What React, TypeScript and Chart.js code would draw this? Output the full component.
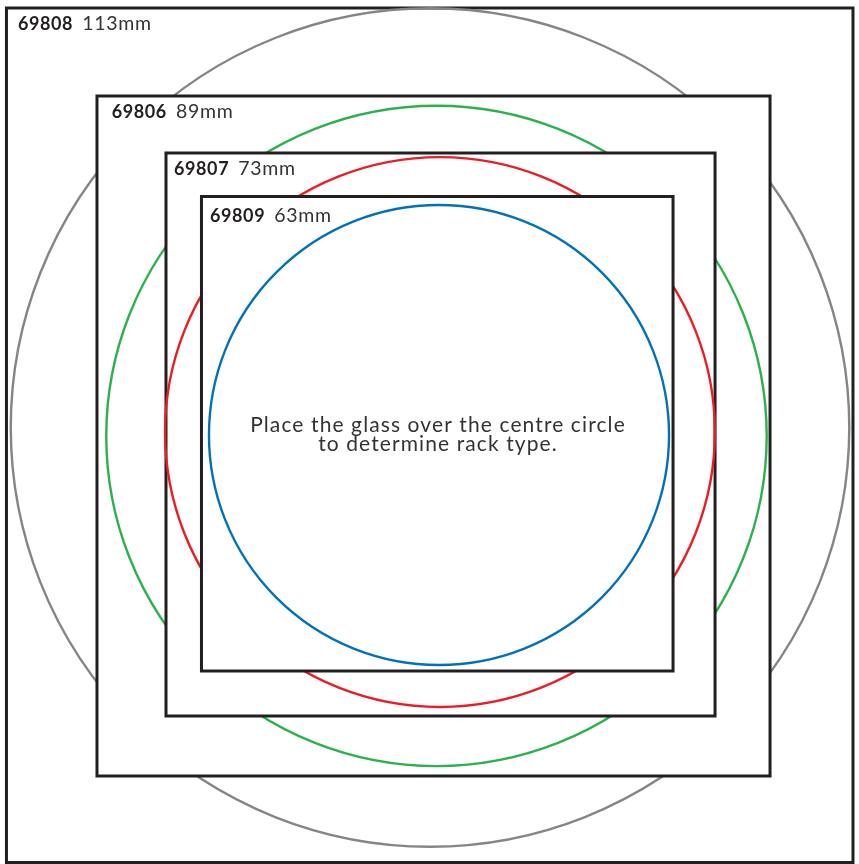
import React, { useEffect, useRef } from 'react';
import { Chart, registerables } from 'chart.js';

Chart.register(...registerables);

// ---- data ----
const codes = ['69808', '69806', '69807', '69809'];
const sizeLabelsMm = [113, 89, 73, 63];
// circle diameters and centres as drawn in the picture (drawing units ≈ mm)
const circleDiameters = [113, 89, 74.1, 62.0];
const circleCx = [-0.94, -0.07, 0.4, 0.27];
const circleCy = [0.74, -0.4, 0.13, -0.27];
const squareLeft = [-58.02, -45.82, -36.52, -31.74];
const squareRight = [56.06, 44.88, 37.47, 31.81];
const squareTop = [57.28, 45.42, 37.74, 31.87];
const squareBottom = [-57.88, -46.23, -38.14, -32.08];
const centreText = ['Place the glass over the centre circle', 'to determine rack type.'];

// ---- styles ----
const circleColors = ['#858585', '#2bb24c', '#ed1c24', '#0072bc'];
const squareColor = '#231f20';
const labelOffsetX = [11.5, 14.7, 8, 8.5];
const labelOffsetY = [22, 22, 22, 25.5];
const FONT = 'Lato, "DejaVu Sans", sans-serif';

const X_MIN = -58.89, X_MAX = 56.87, Y_MIN = -58.09, Y_MAX = 58.36;

export default function App() {
  const ref = useRef<HTMLCanvasElement | null>(null);

  useEffect(() => {
    if (!ref.current) return;
    const n = codes.length;
    const datasets = codes.map((c, i) => ({
      label: c,
      data: [
        { x: squareLeft[i], y: squareTop[i] },
        { x: squareRight[i], y: squareTop[i] },
        { x: squareRight[i], y: squareBottom[i] },
        { x: squareLeft[i], y: squareBottom[i] },
        { x: squareLeft[i], y: squareTop[i] },
      ],
      showLine: true,
      borderColor: squareColor,
      borderWidth: 3,
      borderJoinStyle: 'miter' as const,
      borderCapStyle: 'square' as const,
      pointRadius: 0,
      pointHoverRadius: 0,
      tension: 0,
      fill: false,
      order: n - i,
    }));

    const shapes = {
      id: 'shapes',
      beforeDatasetDraw(chart: any, args: any) {
        const i = args.index;
        const { ctx, scales } = chart;
        const x = scales.x, y = scales.y;
        const l = x.getPixelForValue(squareLeft[i]);
        const r = x.getPixelForValue(squareRight[i]);
        const t = y.getPixelForValue(squareTop[i]);
        const b = y.getPixelForValue(squareBottom[i]);
        ctx.save();
        ctx.fillStyle = '#ffffff';
        ctx.fillRect(l, t, r - l, b - t);
        ctx.restore();
      },
      afterDatasetDraw(chart: any, args: any) {
        const i = args.index;
        const { ctx, scales } = chart;
        const x = scales.x, y = scales.y;
        const cx = x.getPixelForValue(circleCx[i]);
        const cy = y.getPixelForValue(circleCy[i]);
        const rx = x.getPixelForValue(circleCx[i] + circleDiameters[i] / 2) - cx;
        const ry = cy - y.getPixelForValue(circleCy[i] + circleDiameters[i] / 2);
        ctx.save();
        ctx.beginPath();
        ctx.ellipse(cx, cy, rx, ry, 0, 0, Math.PI * 2);
        ctx.strokeStyle = circleColors[i];
        ctx.lineWidth = 2.4;
        ctx.stroke();
        ctx.restore();
      },
      afterDraw(chart: any) {
        const { ctx, scales } = chart;
        const x = scales.x, y = scales.y;
        ctx.save();
        ctx.textBaseline = 'alphabetic';
        ctx.textAlign = 'left';
        codes.forEach((c, i) => {
          const px = x.getPixelForValue(squareLeft[i]) + labelOffsetX[i];
          const py = y.getPixelForValue(squareTop[i]) + labelOffsetY[i];
          ctx.fillStyle = '#231f20';
          ctx.font = `bold 18px ${FONT}`;
          (ctx as any).letterSpacing = '0.6px';
          ctx.fillText(c, px, py);
          const w = ctx.measureText(c).width;
          ctx.fillStyle = '#333333';
          ctx.font = `19.5px ${FONT}`;
          (ctx as any).letterSpacing = '0.7px';
          ctx.fillText(sizeLabelsMm[i] + 'mm', px + w + 9, py);
        });
        const cx = x.getPixelForValue(0);
        const cy = y.getPixelForValue(0);
        ctx.fillStyle = '#333333';
        ctx.textAlign = 'center';
        ctx.font = `21px ${FONT}`;
        (ctx as any).letterSpacing = '1.1px';
        ctx.fillText(centreText[0], cx + 1, cy - 1);
        ctx.fillText(centreText[1], cx + 1, cy + 18);
        ctx.restore();
      },
    };

    const chart = new Chart(ref.current, {
      type: 'scatter',
      data: { datasets },
      options: {
        animation: false,
        responsive: false,
        events: [],
        layout: { padding: 0 },
        plugins: { legend: { display: false }, tooltip: { enabled: false } },
        scales: {
          x: { type: 'linear', min: X_MIN, max: X_MAX, display: false },
          y: { type: 'linear', min: Y_MIN, max: Y_MAX, display: false },
        },
      },
      plugins: [shapes],
    });
    return () => chart.destroy();
  }, []);

  return (
    <canvas
      ref={ref}
      width={859}
      height={864}
      style={{ position: 'absolute', left: 0, top: 0, width: 859, height: 864, background: '#fff' }}
    />
  );
}
